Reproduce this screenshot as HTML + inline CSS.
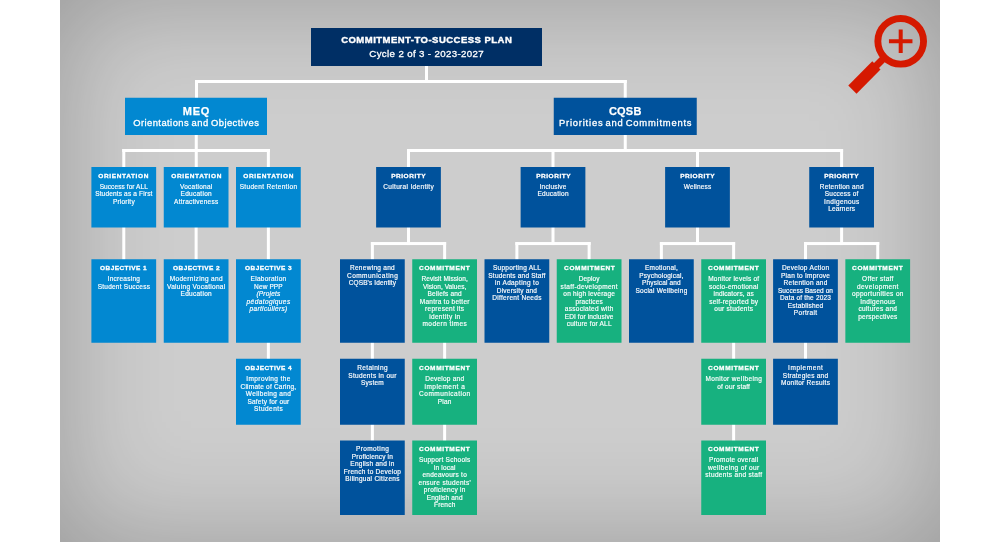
<!DOCTYPE html>
<html><head><meta charset="utf-8"><title>Commitment-to-Success Plan</title>
<style>
html,body{margin:0;padding:0;background:#fff;}
body{width:1000px;height:542px;position:relative;overflow:hidden;font-family:"Liberation Sans",sans-serif;color:#fff;}
#bg{position:absolute;left:60px;top:0;width:880px;height:542px;background:#cdcdcd;box-shadow:inset 0 0 110px 0 rgba(0,0,0,0.25);}
svg{position:absolute;left:0;top:0;}
#tx{position:absolute;left:0;top:0;width:1000px;height:542px;will-change:transform;}
.h,.b,.t{position:absolute;text-align:center;white-space:nowrap;}
.h{font-weight:bold;font-size:6.0px;line-height:8px;height:8px;-webkit-text-stroke:0.3px #fff;transform:scaleX(1.08);}
.b{font-size:6.5px;line-height:8px;height:8px;letter-spacing:0.12px;-webkit-text-stroke:0.17px #fff;}
.t{-webkit-text-stroke:0.25px #fff;}
</style></head><body>
<div id="bg"></div>
<svg width="1000" height="542" viewBox="0 0 1000 542" shape-rendering="geometricPrecision">
<rect x="425.00" y="65.00" width="3.00" height="17.00" fill="#fff"/>
<rect x="195.00" y="80.00" width="431.75" height="3.00" fill="#fff"/>
<rect x="195.00" y="80.00" width="3.00" height="19.00" fill="#fff"/>
<rect x="623.75" y="80.00" width="3.00" height="19.00" fill="#fff"/>
<rect x="194.75" y="134.00" width="3.00" height="34.00" fill="#fff"/>
<rect x="122.28" y="149.00" width="147.60" height="3.00" fill="#fff"/>
<rect x="122.28" y="149.00" width="3.00" height="19.00" fill="#fff"/>
<rect x="266.88" y="149.00" width="3.00" height="19.00" fill="#fff"/>
<rect x="122.28" y="226.50" width="3.00" height="33.75" fill="#fff"/>
<rect x="194.62" y="226.50" width="3.00" height="33.75" fill="#fff"/>
<rect x="266.88" y="226.50" width="3.00" height="33.75" fill="#fff"/>
<rect x="266.88" y="341.75" width="3.00" height="18.00" fill="#fff"/>
<rect x="623.75" y="134.00" width="3.00" height="18.00" fill="#fff"/>
<rect x="407.00" y="149.00" width="436.10" height="3.00" fill="#fff"/>
<rect x="407.00" y="149.00" width="3.00" height="19.00" fill="#fff"/>
<rect x="407.00" y="226.50" width="3.00" height="18.55" fill="#fff"/>
<rect x="370.88" y="242.05" width="75.25" height="3.00" fill="#fff"/>
<rect x="370.88" y="242.05" width="3.00" height="18.20" fill="#fff"/>
<rect x="443.12" y="242.05" width="3.00" height="18.20" fill="#fff"/>
<rect x="551.50" y="149.00" width="3.00" height="19.00" fill="#fff"/>
<rect x="551.50" y="226.50" width="3.00" height="18.55" fill="#fff"/>
<rect x="515.38" y="242.05" width="75.25" height="3.00" fill="#fff"/>
<rect x="515.38" y="242.05" width="3.00" height="18.20" fill="#fff"/>
<rect x="587.62" y="242.05" width="3.00" height="18.20" fill="#fff"/>
<rect x="696.00" y="149.00" width="3.00" height="19.00" fill="#fff"/>
<rect x="696.00" y="226.50" width="3.00" height="18.55" fill="#fff"/>
<rect x="659.88" y="242.05" width="75.25" height="3.00" fill="#fff"/>
<rect x="659.88" y="242.05" width="3.00" height="18.20" fill="#fff"/>
<rect x="732.12" y="242.05" width="3.00" height="18.20" fill="#fff"/>
<rect x="840.10" y="149.00" width="3.00" height="19.00" fill="#fff"/>
<rect x="840.10" y="226.50" width="3.00" height="18.55" fill="#fff"/>
<rect x="803.98" y="242.05" width="75.25" height="3.00" fill="#fff"/>
<rect x="803.98" y="242.05" width="3.00" height="18.20" fill="#fff"/>
<rect x="876.23" y="242.05" width="3.00" height="18.20" fill="#fff"/>
<rect x="370.88" y="341.75" width="3.00" height="18.00" fill="#fff"/>
<rect x="443.12" y="341.75" width="3.00" height="18.00" fill="#fff"/>
<rect x="732.12" y="341.75" width="3.00" height="18.00" fill="#fff"/>
<rect x="803.98" y="341.75" width="3.00" height="18.00" fill="#fff"/>
<rect x="370.88" y="423.75" width="3.00" height="17.75" fill="#fff"/>
<rect x="443.12" y="423.75" width="3.00" height="17.75" fill="#fff"/>
<rect x="732.12" y="423.75" width="3.00" height="17.75" fill="#fff"/>
<rect x="311.00" y="28.00" width="231.00" height="38.00" fill="#002f65"/>
<rect x="125.00" y="97.75" width="142.00" height="37.25" fill="#0288d1"/>
<rect x="553.75" y="97.75" width="143.00" height="37.25" fill="#00529c"/>
<rect x="91.40" y="167.00" width="64.75" height="60.50" fill="#0288d1"/>
<rect x="163.75" y="167.00" width="64.75" height="60.50" fill="#0288d1"/>
<rect x="236.00" y="167.00" width="64.75" height="60.50" fill="#0288d1"/>
<rect x="91.40" y="259.25" width="64.75" height="83.50" fill="#0288d1"/>
<rect x="163.75" y="259.25" width="64.75" height="83.50" fill="#0288d1"/>
<rect x="236.00" y="259.25" width="64.75" height="83.50" fill="#0288d1"/>
<rect x="236.00" y="358.75" width="64.75" height="66.00" fill="#0288d1"/>
<rect x="376.12" y="167.00" width="64.75" height="60.50" fill="#00529c"/>
<rect x="520.62" y="167.00" width="64.75" height="60.50" fill="#00529c"/>
<rect x="665.12" y="167.00" width="64.75" height="60.50" fill="#00529c"/>
<rect x="809.23" y="167.00" width="64.75" height="60.50" fill="#00529c"/>
<rect x="340.00" y="259.25" width="64.75" height="83.50" fill="#00529c"/>
<rect x="412.25" y="259.25" width="64.75" height="83.50" fill="#17b17f"/>
<rect x="484.50" y="259.25" width="64.75" height="83.50" fill="#00529c"/>
<rect x="556.75" y="259.25" width="64.75" height="83.50" fill="#17b17f"/>
<rect x="629.00" y="259.25" width="64.75" height="83.50" fill="#00529c"/>
<rect x="701.25" y="259.25" width="64.75" height="83.50" fill="#17b17f"/>
<rect x="773.10" y="259.25" width="64.75" height="83.50" fill="#00529c"/>
<rect x="845.35" y="259.25" width="64.75" height="83.50" fill="#17b17f"/>
<rect x="340.00" y="358.75" width="64.75" height="66.00" fill="#00529c"/>
<rect x="412.25" y="358.75" width="64.75" height="66.00" fill="#17b17f"/>
<rect x="701.25" y="358.75" width="64.75" height="66.00" fill="#17b17f"/>
<rect x="773.10" y="358.75" width="64.75" height="66.00" fill="#00529c"/>
<rect x="340.00" y="440.50" width="64.75" height="74.50" fill="#00529c"/>
<rect x="412.25" y="440.50" width="64.75" height="74.50" fill="#17b17f"/>
<rect x="701.25" y="440.50" width="64.75" height="74.50" fill="#17b17f"/>
<g fill="none" stroke="#d51900"><circle cx="900.7" cy="41.3" r="22.85" stroke-width="6.9"/><path d="M888.95 41.2H912.45M900.7 29.5V53" stroke-width="4"/><path d="M884.5 57.5L875 67" stroke-width="7.1"/><path d="M876.4 65.4L852.4 89.6" stroke-width="11.6"/></g>
</svg>
<div id="tx">
<div class="t" style="left:311px;top:34px;width:231px;font-weight:bold;font-size:9.5px;line-height:12px;letter-spacing:0.48px;text-indent:0.48px;-webkit-text-stroke:0.4px #fff">COMMITMENT-TO-SUCCESS PLAN</div>
<div class="t" style="left:311px;top:47.5px;width:231px;font-size:9.7px;line-height:12px;letter-spacing:0.36px;text-indent:0.36px;-webkit-text-stroke:0.3px #fff">Cycle 2 of 3 - 2023-2027</div>
<div class="t" style="left:125px;top:105px;width:142px;font-weight:bold;font-size:11px;line-height:12px;letter-spacing:0.7px;text-indent:0.7px">MEQ</div>
<div class="t" style="left:125px;top:117px;width:142px;font-size:9.4px;line-height:12px;letter-spacing:0.45px;text-indent:0.45px;word-spacing:-0.6px;-webkit-text-stroke:0.3px #fff">Orientations and Objectives</div>
<div class="t" style="left:553.75px;top:105px;width:143px;font-weight:bold;font-size:11px;line-height:12px;letter-spacing:0.24px">CQSB</div>
<div class="t" style="left:553.75px;top:117px;width:143px;font-size:9.4px;line-height:12px;letter-spacing:0.79px;text-indent:0.79px;word-spacing:-1.2px;-webkit-text-stroke:0.3px #fff">Priorities and Commitments</div>
<div class="h" style="left:81.40px;top:172.00px;width:84.75px;letter-spacing:0.59px;text-indent:0.59px">ORIENTATION</div>
<div class="b" style="left:81.40px;top:183.00px;width:84.75px;letter-spacing:0.09px;text-indent:0.09px">Success for ALL</div>
<div class="b" style="left:81.40px;top:190.00px;width:84.75px;letter-spacing:0.17px;text-indent:0.17px">Students as a First</div>
<div class="b" style="left:81.40px;top:198.00px;width:84.75px;letter-spacing:0.22px;text-indent:0.22px">Priority</div>
<div class="h" style="left:153.75px;top:172.00px;width:84.75px;letter-spacing:0.59px;text-indent:0.59px">ORIENTATION</div>
<div class="b" style="left:153.75px;top:183.00px;width:84.75px;letter-spacing:0.26px;text-indent:0.26px">Vocational</div>
<div class="b" style="left:153.75px;top:190.00px;width:84.75px;letter-spacing:0.28px;text-indent:0.28px">Education</div>
<div class="b" style="left:153.75px;top:198.00px;width:84.75px;letter-spacing:0.25px;text-indent:0.25px">Attractiveness</div>
<div class="h" style="left:226.00px;top:172.00px;width:84.75px;letter-spacing:0.59px;text-indent:0.59px">ORIENTATION</div>
<div class="b" style="left:226.00px;top:183.00px;width:84.75px;letter-spacing:0.34px;text-indent:0.34px">Student Retention</div>
<div class="h" style="left:81.40px;top:264.00px;width:84.75px;letter-spacing:0.42px;text-indent:0.42px">OBJECTIVE 1</div>
<div class="b" style="left:81.40px;top:275.00px;width:84.75px;letter-spacing:0.26px;text-indent:0.26px">Increasing</div>
<div class="b" style="left:81.40px;top:283.00px;width:84.75px;letter-spacing:0.25px;text-indent:0.25px">Student Success</div>
<div class="h" style="left:153.75px;top:264.00px;width:84.75px;letter-spacing:0.42px;text-indent:0.42px">OBJECTIVE 2</div>
<div class="b" style="left:153.75px;top:275.00px;width:84.75px;letter-spacing:0.34px;text-indent:0.34px">Modernizing and</div>
<div class="b" style="left:153.75px;top:283.00px;width:84.75px;letter-spacing:0.31px;text-indent:0.31px">Valuing Vocational</div>
<div class="b" style="left:153.75px;top:290.00px;width:84.75px;letter-spacing:0.28px;text-indent:0.28px">Education</div>
<div class="h" style="left:226.00px;top:264.00px;width:84.75px;letter-spacing:0.42px;text-indent:0.42px">OBJECTIVE 3</div>
<div class="b" style="left:226.00px;top:275.00px;width:84.75px;letter-spacing:0.27px;text-indent:0.27px">Elaboration</div>
<div class="b" style="left:226.00px;top:283.00px;width:84.75px;letter-spacing:0.12px;text-indent:0.12px">New PPP</div>
<div class="b" style="left:226.00px;top:290.00px;width:84.75px;letter-spacing:0.20px;text-indent:0.20px"><i>(Projets</i></div>
<div class="b" style="left:226.00px;top:298.00px;width:84.75px;letter-spacing:0.41px;text-indent:0.41px"><i>pédatogiques</i></div>
<div class="b" style="left:226.00px;top:305.00px;width:84.75px;letter-spacing:0.33px;text-indent:0.33px"><i>particuliers)</i></div>
<div class="h" style="left:226.00px;top:364.00px;width:84.75px;letter-spacing:0.42px;text-indent:0.42px">OBJECTIVE 4</div>
<div class="b" style="left:226.00px;top:375.00px;width:84.75px;letter-spacing:0.39px;text-indent:0.39px">Improving the</div>
<div class="b" style="left:226.00px;top:383.00px;width:84.75px;letter-spacing:0.21px;text-indent:0.21px">Climate of Caring,</div>
<div class="b" style="left:226.00px;top:390.00px;width:84.75px;letter-spacing:0.33px;text-indent:0.33px">Wellbeing and</div>
<div class="b" style="left:226.00px;top:398.00px;width:84.75px;letter-spacing:0.21px;text-indent:0.21px">Safety for our</div>
<div class="b" style="left:226.00px;top:405.00px;width:84.75px;letter-spacing:0.41px;text-indent:0.41px">Students</div>
<div class="h" style="left:366.12px;top:172.00px;width:84.75px;letter-spacing:0.49px;text-indent:0.49px">PRIORITY</div>
<div class="b" style="left:366.12px;top:183.00px;width:84.75px;letter-spacing:0.33px;text-indent:0.33px">Cultural Identity</div>
<div class="h" style="left:510.62px;top:172.00px;width:84.75px;letter-spacing:0.49px;text-indent:0.49px">PRIORITY</div>
<div class="b" style="left:510.62px;top:183.00px;width:84.75px;letter-spacing:0.19px;text-indent:0.19px">Inclusive</div>
<div class="b" style="left:510.62px;top:190.00px;width:84.75px;letter-spacing:0.28px;text-indent:0.28px">Education</div>
<div class="h" style="left:655.12px;top:172.00px;width:84.75px;letter-spacing:0.49px;text-indent:0.49px">PRIORITY</div>
<div class="b" style="left:655.12px;top:183.00px;width:84.75px;letter-spacing:0.18px;text-indent:0.18px">Wellness</div>
<div class="h" style="left:799.23px;top:172.00px;width:84.75px;letter-spacing:0.49px;text-indent:0.49px">PRIORITY</div>
<div class="b" style="left:799.23px;top:183.00px;width:84.75px;letter-spacing:0.28px;text-indent:0.28px">Retention and</div>
<div class="b" style="left:799.23px;top:190.00px;width:84.75px;letter-spacing:0.19px;text-indent:0.19px">Success of</div>
<div class="b" style="left:799.23px;top:198.00px;width:84.75px;letter-spacing:0.37px;text-indent:0.37px">Indigenous</div>
<div class="b" style="left:799.23px;top:205.00px;width:84.75px;letter-spacing:0.16px;text-indent:0.16px">Learners</div>
<div class="b" style="left:330.00px;top:264.00px;width:84.75px;letter-spacing:0.29px;text-indent:0.29px">Renewing and</div>
<div class="b" style="left:330.00px;top:272.00px;width:84.75px;letter-spacing:0.47px;text-indent:0.47px">Communicating</div>
<div class="b" style="left:330.00px;top:279.00px;width:84.75px;letter-spacing:0.12px;text-indent:0.12px">CQSB's Identity</div>
<div class="h" style="left:402.25px;top:264.00px;width:84.75px;letter-spacing:0.62px;text-indent:0.62px">COMMITMENT</div>
<div class="b" style="left:402.25px;top:275.00px;width:84.75px;letter-spacing:0.08px;text-indent:0.08px">Revisit Mission,</div>
<div class="b" style="left:402.25px;top:283.00px;width:84.75px;letter-spacing:0.07px;text-indent:0.07px">Vision, Values,</div>
<div class="b" style="left:402.25px;top:290.00px;width:84.75px;letter-spacing:0.19px;text-indent:0.19px">Beliefs and</div>
<div class="b" style="left:402.25px;top:298.00px;width:84.75px;letter-spacing:0.25px;text-indent:0.25px">Mantra to better</div>
<div class="b" style="left:402.25px;top:305.00px;width:84.75px;letter-spacing:0.27px;text-indent:0.27px">represent its</div>
<div class="b" style="left:402.25px;top:313.00px;width:84.75px;letter-spacing:0.35px;text-indent:0.35px">identity in</div>
<div class="b" style="left:402.25px;top:320.00px;width:84.75px;letter-spacing:0.44px;text-indent:0.44px">modern times</div>
<div class="b" style="left:474.50px;top:264.00px;width:84.75px;letter-spacing:0.27px;text-indent:0.27px">Supporting ALL</div>
<div class="b" style="left:474.50px;top:272.00px;width:84.75px;letter-spacing:0.22px;text-indent:0.22px">Students and Staff</div>
<div class="b" style="left:474.50px;top:279.00px;width:84.75px;letter-spacing:0.34px;text-indent:0.34px">in Adapting to</div>
<div class="b" style="left:474.50px;top:287.00px;width:84.75px;letter-spacing:0.21px;text-indent:0.21px">Diversity and</div>
<div class="b" style="left:474.50px;top:294.00px;width:84.75px;letter-spacing:0.29px;text-indent:0.29px">Different Needs</div>
<div class="h" style="left:546.75px;top:264.00px;width:84.75px;letter-spacing:0.62px;text-indent:0.62px">COMMITMENT</div>
<div class="b" style="left:546.75px;top:275.00px;width:84.75px;letter-spacing:0.09px;text-indent:0.09px">Deploy</div>
<div class="b" style="left:546.75px;top:283.00px;width:84.75px;letter-spacing:0.34px;text-indent:0.34px">staff-development</div>
<div class="b" style="left:546.75px;top:290.00px;width:84.75px;letter-spacing:0.23px;text-indent:0.23px">on high leverage</div>
<div class="b" style="left:546.75px;top:298.00px;width:84.75px;letter-spacing:0.16px;text-indent:0.16px">practices</div>
<div class="b" style="left:546.75px;top:305.00px;width:84.75px;letter-spacing:0.30px;text-indent:0.30px">associated with</div>
<div class="b" style="left:546.75px;top:313.00px;width:84.75px;letter-spacing:0.10px;text-indent:0.10px">EDI for inclusive</div>
<div class="b" style="left:546.75px;top:320.00px;width:84.75px;letter-spacing:0.21px;text-indent:0.21px">culture for ALL</div>
<div class="b" style="left:619.00px;top:264.00px;width:84.75px;letter-spacing:0.23px;text-indent:0.23px">Emotional,</div>
<div class="b" style="left:619.00px;top:272.00px;width:84.75px;letter-spacing:0.20px;text-indent:0.20px">Psychological,</div>
<div class="b" style="left:619.00px;top:279.00px;width:84.75px;letter-spacing:0.17px;text-indent:0.17px">Physical and</div>
<div class="b" style="left:619.00px;top:287.00px;width:84.75px;letter-spacing:0.26px;text-indent:0.26px">Social Wellbeing</div>
<div class="h" style="left:691.25px;top:264.00px;width:84.75px;letter-spacing:0.62px;text-indent:0.62px">COMMITMENT</div>
<div class="b" style="left:691.25px;top:275.00px;width:84.75px;letter-spacing:0.22px;text-indent:0.22px">Monitor levels of</div>
<div class="b" style="left:691.25px;top:283.00px;width:84.75px;letter-spacing:0.27px;text-indent:0.27px">socio-emotional</div>
<div class="b" style="left:691.25px;top:290.00px;width:84.75px;letter-spacing:0.14px;text-indent:0.14px">indicators, as</div>
<div class="b" style="left:691.25px;top:298.00px;width:84.75px;letter-spacing:0.25px;text-indent:0.25px">self-reported by</div>
<div class="b" style="left:691.25px;top:305.00px;width:84.75px;letter-spacing:0.27px;text-indent:0.27px">our students</div>
<div class="b" style="left:763.10px;top:264.00px;width:84.75px;letter-spacing:0.29px;text-indent:0.29px">Develop Action</div>
<div class="b" style="left:763.10px;top:272.00px;width:84.75px;letter-spacing:0.24px;text-indent:0.24px">Plan to Improve</div>
<div class="b" style="left:763.10px;top:279.00px;width:84.75px;letter-spacing:0.28px;text-indent:0.28px">Retention and</div>
<div class="b" style="left:763.10px;top:287.00px;width:84.75px;letter-spacing:0.08px;text-indent:0.08px">Success Based on</div>
<div class="b" style="left:763.10px;top:294.00px;width:84.75px;letter-spacing:0.20px;text-indent:0.20px">Data of the 2023</div>
<div class="b" style="left:763.10px;top:302.00px;width:84.75px;letter-spacing:0.16px;text-indent:0.16px">Established</div>
<div class="b" style="left:763.10px;top:309.00px;width:84.75px;letter-spacing:0.34px;text-indent:0.34px">Portrait</div>
<div class="h" style="left:835.35px;top:264.00px;width:84.75px;letter-spacing:0.62px;text-indent:0.62px">COMMITMENT</div>
<div class="b" style="left:835.35px;top:275.00px;width:84.75px;letter-spacing:0.30px;text-indent:0.30px">Offer staff</div>
<div class="b" style="left:835.35px;top:283.00px;width:84.75px;letter-spacing:0.40px;text-indent:0.40px">development</div>
<div class="b" style="left:835.35px;top:290.00px;width:84.75px;letter-spacing:0.35px;text-indent:0.35px">opportunities on</div>
<div class="b" style="left:835.35px;top:298.00px;width:84.75px;letter-spacing:0.37px;text-indent:0.37px">Indigenous</div>
<div class="b" style="left:835.35px;top:305.00px;width:84.75px;letter-spacing:0.28px;text-indent:0.28px">cultures and</div>
<div class="b" style="left:835.35px;top:313.00px;width:84.75px;letter-spacing:0.23px;text-indent:0.23px">perspectives</div>
<div class="b" style="left:330.00px;top:364.00px;width:84.75px;letter-spacing:0.35px;text-indent:0.35px">Retaining</div>
<div class="b" style="left:330.00px;top:372.00px;width:84.75px;letter-spacing:0.31px;text-indent:0.31px">Students in our</div>
<div class="b" style="left:330.00px;top:379.00px;width:84.75px;letter-spacing:0.23px;text-indent:0.23px">System</div>
<div class="h" style="left:402.25px;top:364.00px;width:84.75px;letter-spacing:0.62px;text-indent:0.62px">COMMITMENT</div>
<div class="b" style="left:402.25px;top:375.00px;width:84.75px;letter-spacing:0.23px;text-indent:0.23px">Develop and</div>
<div class="b" style="left:402.25px;top:383.00px;width:84.75px;letter-spacing:0.49px;text-indent:0.49px">implement a</div>
<div class="b" style="left:402.25px;top:390.00px;width:84.75px;letter-spacing:0.49px;text-indent:0.49px">Communication</div>
<div class="b" style="left:402.25px;top:398.00px;width:84.75px;letter-spacing:0.18px;text-indent:0.18px">Plan</div>
<div class="h" style="left:691.25px;top:364.00px;width:84.75px;letter-spacing:0.62px;text-indent:0.62px">COMMITMENT</div>
<div class="b" style="left:691.25px;top:375.00px;width:84.75px;letter-spacing:0.36px;text-indent:0.36px">Monitor wellbeing</div>
<div class="b" style="left:691.25px;top:383.00px;width:84.75px;letter-spacing:0.18px;text-indent:0.18px">of our staff</div>
<div class="b" style="left:763.10px;top:364.00px;width:84.75px;letter-spacing:0.56px;text-indent:0.56px">Implement</div>
<div class="b" style="left:763.10px;top:372.00px;width:84.75px;letter-spacing:0.26px;text-indent:0.26px">Strategies and</div>
<div class="b" style="left:763.10px;top:379.00px;width:84.75px;letter-spacing:0.27px;text-indent:0.27px">Monitor Results</div>
<div class="b" style="left:330.00px;top:445.00px;width:84.75px;letter-spacing:0.40px;text-indent:0.40px">Promoting</div>
<div class="b" style="left:330.00px;top:453.00px;width:84.75px;letter-spacing:0.18px;text-indent:0.18px">Proficiency in</div>
<div class="b" style="left:330.00px;top:460.00px;width:84.75px;letter-spacing:0.25px;text-indent:0.25px">English and in</div>
<div class="b" style="left:330.00px;top:468.00px;width:84.75px;letter-spacing:0.25px;text-indent:0.25px">French to Develop</div>
<div class="b" style="left:330.00px;top:475.00px;width:84.75px;letter-spacing:0.27px;text-indent:0.27px">Bilingual Citizens</div>
<div class="h" style="left:402.25px;top:445.00px;width:84.75px;letter-spacing:0.62px;text-indent:0.62px">COMMITMENT</div>
<div class="b" style="left:402.25px;top:456.00px;width:84.75px;letter-spacing:0.26px;text-indent:0.26px">Support Schools</div>
<div class="b" style="left:402.25px;top:464.00px;width:84.75px;letter-spacing:0.19px;text-indent:0.19px">in local</div>
<div class="b" style="left:402.25px;top:471.00px;width:84.75px;letter-spacing:0.26px;text-indent:0.26px">endeavours to</div>
<div class="b" style="left:402.25px;top:479.00px;width:84.75px;letter-spacing:0.32px;text-indent:0.32px">ensure students'</div>
<div class="b" style="left:402.25px;top:486.00px;width:84.75px;letter-spacing:0.28px;text-indent:0.28px">proficiency in</div>
<div class="b" style="left:402.25px;top:494.00px;width:84.75px;letter-spacing:0.18px;text-indent:0.18px">English and</div>
<div class="b" style="left:402.25px;top:501.00px;width:84.75px;letter-spacing:0.21px;text-indent:0.21px">French</div>
<div class="h" style="left:691.25px;top:445.00px;width:84.75px;letter-spacing:0.62px;text-indent:0.62px">COMMITMENT</div>
<div class="b" style="left:691.25px;top:456.00px;width:84.75px;letter-spacing:0.25px;text-indent:0.25px">Promote overall</div>
<div class="b" style="left:691.25px;top:464.00px;width:84.75px;letter-spacing:0.38px;text-indent:0.38px">wellbeing of our</div>
<div class="b" style="left:691.25px;top:471.00px;width:84.75px;letter-spacing:0.33px;text-indent:0.33px">students and staff</div>
</div>
</body></html>
